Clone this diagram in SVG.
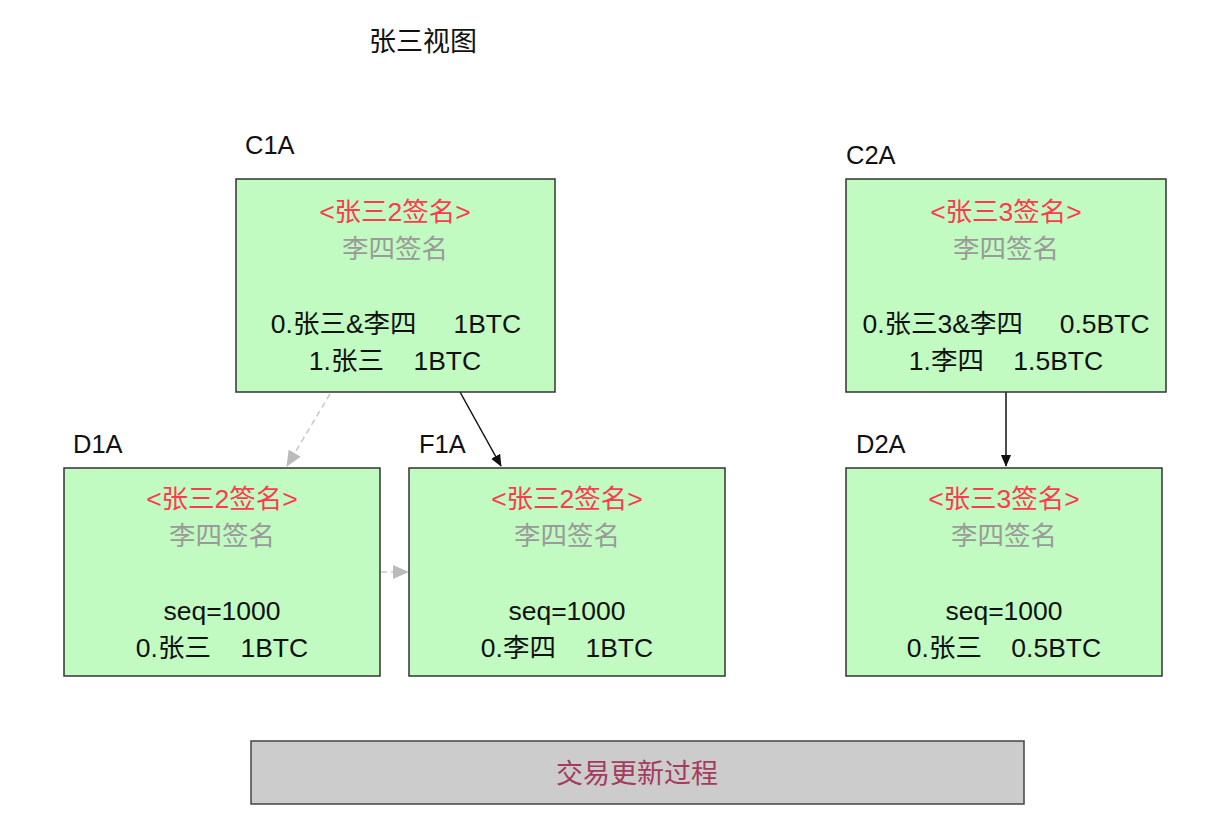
<svg xmlns="http://www.w3.org/2000/svg" width="1212" height="840" viewBox="0 0 1212 840">
<style>
text{font-family:"Liberation Sans","Noto Sans CJK SC",sans-serif;font-size:26.5px;white-space:pre}
.box{fill:#c2fbc2;stroke:#333;stroke-width:1.5}
.c{text-anchor:middle}
.red{fill:#ff3a4f}
.gray{fill:#9a9a9a}
.blk{fill:#111}
.lbl{fill:#111;font-size:25.5px}
</style>
<defs>
<marker id="ab" markerWidth="12" markerHeight="14" refX="13" refY="6" orient="auto" markerUnits="userSpaceOnUse" viewBox="0 0 14 12"><path d="M0,0 L14,6 L0,12 Z" fill="#111"/></marker>
<marker id="ag" markerWidth="16" markerHeight="14" refX="15" refY="7" orient="auto" markerUnits="userSpaceOnUse" viewBox="0 0 16 14"><path d="M0,0 L16,7 L0,14 Z" fill="#bbb"/></marker>
</defs>
<rect width="1212" height="840" fill="#fff"/>
<text x="369" y="51" style="font-size:27px" class="blk">张三视图</text>
<g id="edges">
<line x1="330" y1="394" x2="287" y2="466" stroke="#c8c8c8" stroke-width="1.5" stroke-dasharray="6,4" marker-end="url(#ag)"/>
<line x1="460" y1="392" x2="501" y2="466" stroke="#111" stroke-width="1.5" marker-end="url(#ab)"/>
<line x1="381" y1="572" x2="408" y2="572" stroke="#c8c8c8" stroke-width="1.5" stroke-dasharray="6,4" marker-end="url(#ag)"/>
<line x1="1006" y1="392" x2="1006" y2="466" stroke="#111" stroke-width="1.5" marker-end="url(#ab)"/>
</g>
<g id="C1A">
<text x="245" y="154" class="lbl">C1A</text>
<rect x="236" y="179" width="319" height="213" class="box"/>
<text x="395" y="221" class="c red">&lt;张三2签名&gt;</text>
<text x="395" y="258" class="c gray">李四签名</text>
<text x="396" y="333" class="c blk">0.张三&amp;李四     1BTC</text>
<text x="395" y="370" class="c blk">1.张三    1BTC</text>
</g>
<g id="C2A">
<text x="846" y="164" class="lbl">C2A</text>
<rect x="846" y="179" width="320" height="213" class="box"/>
<text x="1006" y="221" class="c red">&lt;张三3签名&gt;</text>
<text x="1006" y="258" class="c gray">李四签名</text>
<text x="1006" y="333" class="c blk">0.张三3&amp;李四     0.5BTC</text>
<text x="1006" y="370" class="c blk">1.李四    1.5BTC</text>
</g>
<g id="D1A">
<text x="73" y="453" class="lbl">D1A</text>
<rect x="64" y="468" width="316" height="208" class="box"/>
<text x="222" y="508" class="c red">&lt;张三2签名&gt;</text>
<text x="222" y="545" class="c gray">李四签名</text>
<text x="222" y="620" class="c blk">seq=1000</text>
<text x="222" y="657" class="c blk">0.张三    1BTC</text>
</g>
<g id="F1A">
<text x="419" y="453" class="lbl">F1A</text>
<rect x="409" y="468" width="316" height="208" class="box"/>
<text x="567" y="508" class="c red">&lt;张三2签名&gt;</text>
<text x="567" y="545" class="c gray">李四签名</text>
<text x="567" y="620" class="c blk">seq=1000</text>
<text x="567" y="657" class="c blk">0.李四    1BTC</text>
</g>
<g id="D2A">
<text x="856" y="453" class="lbl">D2A</text>
<rect x="846" y="468" width="316" height="208" class="box"/>
<text x="1004" y="508" class="c red">&lt;张三3签名&gt;</text>
<text x="1004" y="545" class="c gray">李四签名</text>
<text x="1004" y="620" class="c blk">seq=1000</text>
<text x="1004" y="657" class="c blk">0.张三    0.5BTC</text>
</g>
<g id="process">
<rect x="251" y="741" width="773" height="63" fill="#cccccc" stroke="#444" stroke-width="1.5"/>
<text x="637" y="783" class="c" fill="#a33c5e" style="font-size:27px">交易更新过程</text>
</g>
</svg>
